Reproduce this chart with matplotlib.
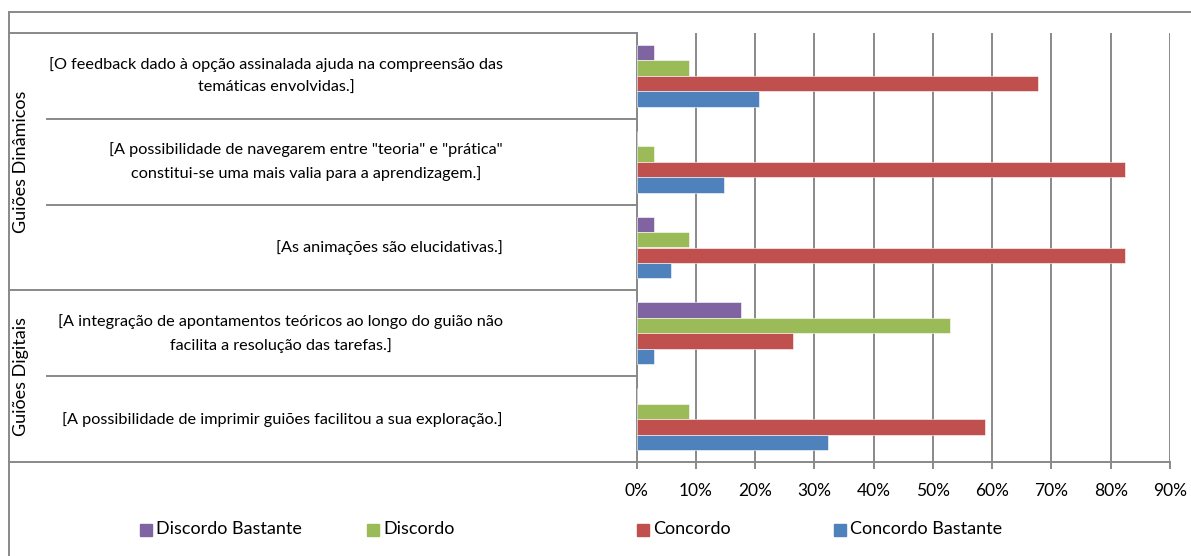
import numpy as np
import matplotlib.pyplot as plt
from matplotlib.patches import Rectangle
from matplotlib.lines import Line2D

# dados (percentagem de respostas, n=34)
afirmacoes = [
    "[O feedback dado à opção assinalada ajuda na compreensão das\ntemáticas envolvidas.]",
    "[A possibilidade de navegarem entre \"teoria\" e \"prática\"\nconstitui-se uma mais valia para a aprendizagem.]",
    "[As animações são elucidativas.]",
    "[A integração de apontamentos teóricos ao longo do guião não\nfacilita a resolução das tarefas.]",
    "[A possibilidade de imprimir guiões facilitou a sua exploração.]",
]
grupos = ["Guiões Dinâmicos", "Guiões Digitais"]
grupo_tamanho = [3, 2]

series = ["Discordo Bastante", "Discordo", "Concordo", "Concordo Bastante"]
discordo_bastante = [2.94, 0.0, 2.94, 17.65, 0.0]
discordo = [8.82, 2.94, 8.82, 52.94, 8.82]
concordo = [67.65, 82.35, 82.35, 26.47, 58.82]
concordo_bastante = [20.59, 14.71, 5.88, 2.94, 32.35]
valores = [discordo_bastante, discordo, concordo, concordo_bastante]
cores = ["#8064A2", "#9BBB59", "#C0504D", "#4F81BD"]
xticks = [0, 10, 20, 30, 40, 50, 60, 70, 80, 90]

W, H = 1191, 556
FONTE = "Lato"
CINZA = "#898989"
plt.rcParams['font.family'] = [FONTE, 'DejaVu Sans']

fig = plt.figure(figsize=(W / 100, H / 100), dpi=100)

def fx(px):
    return px / W

def fy(py):
    return 1 - py / H

x0, x1 = 636.5, 1170
y0, y1 = 33, 462
ax = fig.add_axes([fx(x0), fy(y1), fx(x1) - fx(x0), fy(y0) - fy(y1)])

n = len(afirmacoes)
pos = np.arange(n)
h = 0.18
offs = [-0.27, -0.09, 0.09, 0.27]
for vals, cor, off, nome in zip(valores, cores, offs, series):
    ax.barh(pos + off, vals, height=h, color=cor, edgecolor="white",
            linewidth=0.4, label=nome, zorder=3)

ax.set_xlim(0, 90)
ax.set_ylim(n - 0.5, -0.5)
ax.set_xticks(xticks)
ax.set_xticklabels([f"{t}%" for t in xticks], fontsize=12.5, color="black")
ax.set_yticks([])
ax.grid(axis="x", color=CINZA, linewidth=1.4, zorder=0)
ax.set_axisbelow(True)
ax.tick_params(axis="x", length=5, width=1.4, color=CINZA, pad=10)
for s in ["top", "right"]:
    ax.spines[s].set_visible(False)
for s in ["left", "bottom"]:
    ax.spines[s].set_color(CINZA)
    ax.spines[s].set_linewidth(1.4)

# moldura exterior
fig.patches.append(Rectangle((fx(9), fy(H + 10)), fx(W + 20) - fx(9), fy(12) - fy(H + 10),
                             transform=fig.transFigure, fill=False,
                             edgecolor=CINZA, linewidth=1.4))

# tabela de categorias
limites = np.linspace(y0, y1, n + 1)
inicio_grupo = [0]
for g in grupo_tamanho:
    inicio_grupo.append(inicio_grupo[-1] + g)
for k, yb in enumerate(limites):
    xl = 9 if k in inicio_grupo else 47
    fig.add_artist(Line2D([fx(xl), fx(x0)], [fy(yb), fy(yb)], color=CINZA,
                          linewidth=1.4, transform=fig.transFigure))

for i, txt in enumerate(afirmacoes):
    yc = (limites[i] + limites[i + 1]) / 2
    fig.text(fx(503), fy(yc), txt, ha="right", va="center", multialignment="center",
             fontsize=11.7, linespacing=1.75)

for g, nome in enumerate(grupos):
    yc = (limites[inicio_grupo[g]] + limites[inicio_grupo[g + 1]]) / 2
    fig.text(fx(21), fy(yc), nome, ha="center", va="center", rotation=90, fontsize=13)

# legenda
leg_x = [140, 367, 637, 834]
for xs, cor, nome in zip(leg_x, cores, series):
    fig.patches.append(Rectangle((fx(xs), fy(536)), fx(12), fy(524) - fy(536),
                                 transform=fig.transFigure, color=cor))
    fig.text(fx(xs + 16), fy(529), nome, ha="left", va="center", fontsize=13)

fig.savefig("out.png", dpi=100)
